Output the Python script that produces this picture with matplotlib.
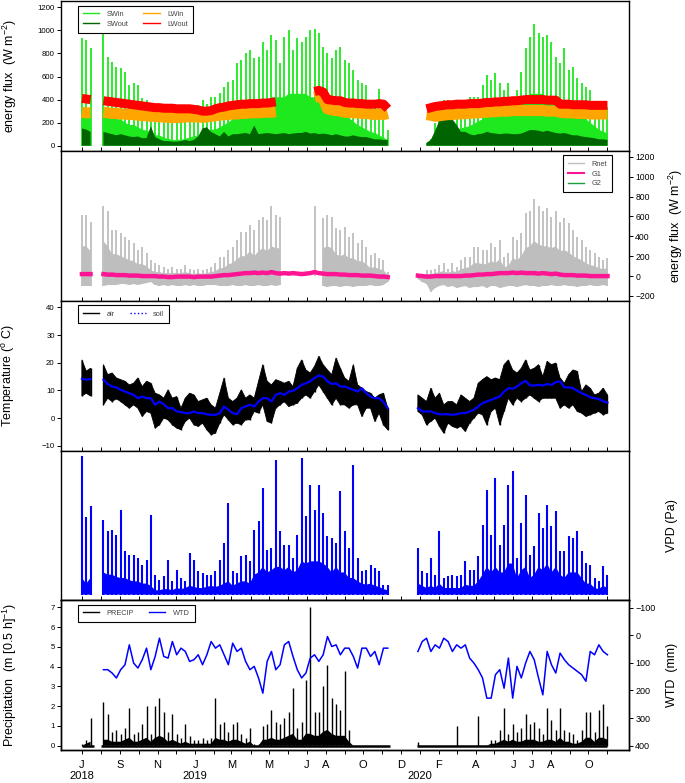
import matplotlib
matplotlib.use("Agg")
import matplotlib.pyplot as plt
from matplotlib.lines import Line2D
import numpy as np
import pandas as pd

nan = np.nan

# ---------------------------------------------------------------------------
# Data (weekly values)
# ---------------------------------------------------------------------------

WEEKS = pd.date_range("2018-07-01", periods=123, freq="7D")
MONTHS = pd.date_range("2018-07-01", "2020-11-01", freq="MS")
MONTH_LABELS = {
    "2018-07": "J\n2018", "2018-09": "S", "2018-11": "N", "2019-01": "J\n2019",
    "2019-03": "M", "2019-05": "M", "2019-07": "J", "2019-08": "A",
    "2019-10": "O", "2019-12": "D", "2020-01": "\n2020", "2020-02": "F",
    "2020-04": "A", "2020-06": "J", "2020-07": "J", "2020-08": "A",
    "2020-10": "O",
}
X_LIM = (pd.Timestamp("2018-05-28"), pd.Timestamp("2020-12-06"))
PRECIP_SEGMENTS = [("2018-07-01", "2018-07-20"),
                   ("2018-08-01", "2019-11-14"),
                   ("2019-12-27", "2020-11-01")]

SW_IN_PEAK = [930, 920, 845, nan, nan, 975, 770, 730, 685, 670,
              640, 525, 540, 525, 410, 395, 340, 295, 300, 280,
              280, 265, 280, 310, 340, 310, 310, 355, 395, 365,
              425, 425, 455, 510, 555, 570, 715, 745, 800, 830,
              760, 770, 900, 830, 960, 915, 715, 945, 1005, 830,
              930, 900, 945, 1005, 1015, 975, 860, 800, 760, 830,
              860, 745, 715, 655, 570, 540, 525, 365, 395, 495,
              310, 135, nan, nan, nan, nan, nan, nan, nan, nan,
              20, 60, 200, 250, 395, 395, 310, 340, 340, 310,
              425, 425, 425, 525, 615, 570, 630, 540, 485, 540,
              425, 485, 640, 845, 945, 1055, 975, 945, 960, 900,
              770, 715, 845, 655, 685, 585, 540, 510, 485, 355,
              340, 340, 340]
SW_IN_BODY = [280, 280, 260, nan, nan, 280, 280, 260, 230, 230,
              200, 180, 180, 160, 140, 130, 120, 90, 90, 70,
              60, 50, 50, 50, 60, 70, 80, 90, 110, 120,
              140, 140, 160, 180, 200, 230, 270, 290, 320, 320,
              350, 370, 390, 390, 420, 420, 420, 420, 450, 450,
              450, 450, 450, 420, 420, 400, 380, 360, 330, 310,
              280, 260, 240, 210, 180, 160, 140, 120, 110, 90,
              70, 50, nan, nan, nan, nan, nan, nan, nan, nan,
              20, 40, 90, 110, 130, 140, 140, 140, 150, 160,
              170, 190, 210, 230, 260, 280, 300, 320, 330, 340,
              360, 380, 400, 420, 450, 450, 450, 450, 420, 420,
              400, 380, 360, 330, 310, 280, 260, 230, 200, 170,
              140, 120, 110]
SW_OUT = [150, 140, 120, nan, nan, 120, 110, 100, 90, 100,
          90, 80, 75, 80, 65, 65, 170, 75, 55, 40,
          40, 35, 35, 40, 50, 40, 50, 80, 150, 160,
          120, 100, 80, 120, 80, 100, 100, 105, 110, 100,
          175, 100, 105, 110, 105, 100, 105, 110, 100, 105,
          110, 110, 120, 105, 110, 100, 105, 100, 90, 100,
          90, 80, 80, 90, 80, 75, 75, 65, 55, 55,
          50, 50, nan, nan, nan, nan, nan, nan, nan, nan,
          25, 50, 130, 220, 260, 250, 230, 180, 120, 120,
          100, 90, 100, 105, 120, 110, 105, 100, 105, 105,
          100, 100, 105, 120, 135, 135, 130, 120, 130, 120,
          110, 105, 110, 100, 90, 90, 80, 75, 70, 65,
          55, 55, 50]
LW_IN = [290, 285, 285, nan, nan, 290, 285, 280, 280, 275,
         275, 270, 270, 265, 260, 260, 255, 255, 250, 250,
         245, 245, 245, 245, 250, 250, 250, 250, 245, 250,
         255, 260, 265, 270, 270, 275, 275, 280, 280, 285,
         285, 285, 290, 290, 290, 295, nan, nan, nan, nan,
         nan, nan, nan, nan, 420, 430, 410, 320, 310, 305,
         300, 290, 290, 285, 285, 280, 280, 275, 270, 275,
         270, 280, nan, nan, nan, nan, nan, nan, nan, nan,
         270, 265, 255, 260, 265, 270, 270, 275, 275, 280,
         280, 285, 285, 290, 290, 295, 295, 300, 300, 300,
         305, 305, 305, 305, 305, 305, 305, 305, 300, 300,
         300, 290, 285, 285, 285, 280, 280, 280, 275, 275,
         275, 275, 275]
LW_OUT = [410, 405, 400, nan, nan, 390, 385, 380, 375, 370,
          365, 360, 355, 350, 345, 340, 335, 330, 330, 325,
          325, 325, 320, 320, 320, 320, 315, 310, 300, 300,
          305, 320, 330, 335, 345, 350, 355, 360, 360, 365,
          365, 365, 370, 370, 375, 380, nan, nan, nan, nan,
          nan, nan, nan, nan, 470, 480, 465, 400, 395, 390,
          390, 375, 370, 370, 365, 365, 360, 360, 360, 365,
          360, 320, nan, nan, nan, nan, nan, nan, nan, nan,
          320, 330, 340, 345, 350, 355, 355, 360, 360, 360,
          365, 365, 365, 370, 375, 375, 380, 380, 385, 385,
          390, 390, 395, 400, 400, 400, 400, 400, 395, 395,
          395, 360, 360, 360, 355, 355, 355, 355, 350, 350,
          350, 350, 350]

RNET_MAX = [615, 615, 545, nan, nan, 700, 650, 465, 465, 430,
            395, 360, 330, 260, 295, 230, 160, 130, 110, 95,
            75, 95, 75, 75, 110, 75, 60, 75, 60, 75,
            95, 130, 195, 195, 260, 295, 360, 445, 445, 515,
            465, 565, 595, 565, 700, 615, 595, nan, nan, nan,
            nan, nan, nan, nan, 700, nan, 580, 615, 595, 480,
            465, 495, 395, 430, 330, 360, 295, 210, 230, 180,
            160, 45, nan, nan, nan, nan, nan, nan, 25, 25,
            60, 60, 75, 110, 130, 75, 130, 95, 160, 195,
            195, 295, 295, 260, 260, 330, 295, 360, 195, 230,
            395, 360, 430, 630, 650, 780, 700, 650, 680, 595,
            650, 545, 580, 530, 465, 395, 360, 295, 260, 230,
            195, 160, 180]
RNET_MIN = [-100, -100, -100, nan, nan, -100, -90, -90, -90, -80,
            -80, -90, -80, -90, -80, -70, -60, -90, -100, -90,
            -100, -90, -100, -100, -90, -100, -90, -100, -100, -90,
            -90, -90, -100, -100, -100, -90, -100, -100, -90, -100,
            -100, -90, -100, -100, -90, -100, -90, nan, nan, nan,
            nan, nan, nan, nan, 0, nan, -100, -110, -100, -100,
            -110, -100, -100, -110, -100, -100, -100, -90, -100, -100,
            -90, -60, nan, nan, nan, nan, nan, nan, -30, -60,
            -80, -160, -120, -100, -90, -110, -100, -120, -110, -100,
            -120, -110, -110, -100, -120, -100, -100, -120, -110, -100,
            -100, -110, -100, -90, -100, -100, -110, -100, -100, -90,
            -100, -100, -90, -100, -100, -110, -100, -100, -90, -100,
            -100, -90, -100]
RNET_BODY = [300, 300, 250, nan, nan, 350, 300, 220, 220, 200,
             180, 160, 150, 120, 120, 100, 60, 40, 40, 30,
             30, 30, 30, 30, 40, 30, 20, 30, 20, 30,
             40, 50, 80, 80, 120, 130, 170, 200, 200, 250,
             200, 250, 280, 250, 300, 280, 280, nan, nan, nan,
             nan, nan, nan, nan, nan, nan, 280, 300, 280, 220,
             200, 220, 180, 180, 150, 150, 120, 80, 90, 70,
             60, 10, nan, nan, nan, nan, nan, nan, 0, 0,
             20, 20, 30, 40, 50, 30, 50, 40, 70, 80,
             90, 130, 130, 120, 120, 150, 130, 170, 90, 100,
             180, 160, 200, 280, 300, 350, 320, 300, 300, 280,
             300, 250, 260, 240, 200, 180, 160, 130, 110, 100,
             80, 70, 80]
G1 = [20, 20, 20, nan, nan, 20, 15, 15, 10, 10,
      10, 5, 5, 5, 0, 0, 0, 0, -5, -5,
      -10, -10, -5, -5, -5, -5, -10, -5, -5, -5,
      -5, 0, 5, 10, 10, 15, 20, 25, 30, 30,
      35, 30, 35, 30, 40, 30, 25, 30, 25, 30,
      25, 20, 25, 30, 40, 30, 25, 20, 20, 20,
      15, 15, 10, 10, 10, 5, 5, 5, 0, -5,
      -5, -10, nan, nan, nan, nan, nan, nan, 5, 0,
      -5, -5, 0, 0, 0, 0, 0, 0, 0, 5,
      5, 10, 15, 15, 20, 20, 25, 30, 30, 30,
      35, 30, 35, 30, 30, 30, 25, 30, 25, 20,
      25, 15, 10, 10, 10, 5, 5, 5, 0, 0,
      0, 0, 0]

T_AIR_MAX = [21, 17, 18, nan, nan, 19.3, 15.7, 16.3, 14.5, 13.9,
             13.3, 12, 12.6, 14.5, 11.4, 13.3, 12.6, 9, 8.4, 7.2,
             10.2, 7.2, 7.8, 3.6, 7.2, 9, 8.4, 6, 6.6, 7.2,
             4.8, 3.6, 9, 14.5, 7.2, 6, 7.2, 10.2, 7.2, 8.4,
             7.2, 13.3, 19.3, 13.3, 12, 13.9, 13.3, 12.6, 13.3, 11.4,
             18, 21, 17.4, 16.3, 18.7, 22.3, 19.3, 17.4, 15.7, 21.7,
             18, 14.5, 13.3, 19.3, 12, 10.8, 9.6, 9, 7.2, 8.4,
             9, 3.6, nan, nan, nan, nan, nan, nan, 8.4, 7.2,
             6, 10.8, 7.2, 9, 4.8, 6, 6, 4.8, 8.4, 7.2,
             6, 7.2, 12.6, 13.9, 15, 13.9, 14.5, 13.9, 19.3, 21,
             17.4, 16.3, 18, 21, 17.4, 18, 19.3, 15, 20.5, 19.3,
             19.9, 14.5, 12.6, 15.7, 17.4, 16.9, 9.6, 12, 10.8, 8.4,
             9, 10.8, 8.4]
T_AIR_MIN = [8, 9, 8, nan, nan, 4.8, 7.2, 6, 7, 6,
             4.8, 3.6, 4.8, 3.6, 0.6, 2.4, 1.8, -3.6, -2.4, 0,
             -0.6, -2.4, -3.6, -4.2, -1.2, 0, -2.4, -3, -1.8, -4.2,
             -6, -5.4, -1.8, 1.2, -0.6, -2.4, -1.8, -2.4, -0.6, -0.6,
             2.4, 1.8, 4.8, -1.2, -1.8, 3.6, 4.8, 6, 4.2, 4.8,
             5.4, 7.2, 8.4, 7.2, 9.6, 12, 9.6, 7.2, 4.8, 7.2,
             4.8, 4.8, 3.6, 4.8, 4.8, 0.6, 3.6, 3.6, -1.2, 1.8,
             -2.4, -4.2, nan, nan, nan, nan, nan, nan, 2.4, 1.2,
             -2.4, -1.2, 0, -3, -5.4, -1.8, -3, -3.6, -3, -4.8,
             -1.8, 0, 1.8, 1.2, -2.4, 2.4, 3.6, -2.4, 2.4, 7.2,
             4.8, 7.2, 6, 7.2, 8.4, 7.2, 6, 7.2, 7.2, 7.2,
             7.2, 3.6, 4.8, 3.6, 4.8, 2.4, 1.8, 0.6, 1.2, 1.8,
             2.4, 1.2, 1.8]
T_SOIL = [14.2, 13.9, 14.1, nan, nan, 13.9, 12.3, 11.4, 11.1, 10.2,
          9.6, 9, 8.4, 7.2, 7.8, 7.2, 7.2, 4.8, 6, 5,
          3.6, 3.6, 2.4, 2.2, 1.8, 1.8, 2.4, 1.8, 1.8, 1.4,
          1.2, 1.2, 1.8, 4.2, 3, 1.8, 1.4, 3.6, 4.2, 4.8,
          4.2, 6, 7.2, 7.2, 6, 8.4, 9, 8.4, 9.6, 9.9,
          10.8, 12, 12.6, 13.3, 14.5, 15.4, 15, 13.3, 12.3, 12.6,
          11.4, 11.4, 10.8, 10.2, 9.6, 10.8, 9, 7.8, 7.2, 7.2,
          5.8, 3.6, nan, nan, nan, nan, nan, nan, 3.6, 2.4,
          2.4, 2.4, 1.8, 1.4, 1.4, 1.4, 1.2, 1.4, 1.8, 1.8,
          2.4, 3, 4.2, 5.4, 6, 6.6, 7.2, 7.8, 9.6, 10.8,
          10.6, 11.4, 12.6, 13.5, 11.8, 11.8, 12, 11.8, 12.3, 12,
          13, 13.3, 11.1, 11.1, 10.8, 9.9, 9, 8.4, 7.5, 7.2,
          6.9, 6.1, 5.6]

VPD_PEAK = [1245, 700, 795, nan, nan, 675, 570, 585, 540, 765,
            390, 360, 360, 330, 270, 315, 720, 180, 135, 165,
            315, 120, 225, 150, 120, 375, 315, 210, 195, 180,
            180, 210, 315, 465, 825, 210, 195, 345, 360, 300,
            585, 660, 960, 405, 420, 1215, 570, 450, 450, 330,
            540, 1230, 705, 990, 765, 990, 735, 525, 510, 465,
            930, 570, 420, 1170, 330, 210, 225, 270, 240, 210,
            90, 90, nan, nan, nan, nan, nan, nan, 420, 210,
            195, 330, 180, 570, 150, 165, 180, 165, 180, 300,
            225, 225, 345, 630, 945, 540, 1050, 450, 630, 990,
            1110, 330, 645, 900, 360, 435, 735, 600, 810, 615,
            750, 390, 390, 525, 510, 570, 390, 285, 270, 150,
            120, 255, 180]
VPD_BODY = [150, 100, 150, nan, nan, 200, 180, 180, 160, 150,
            150, 130, 120, 120, 100, 100, 80, 40, 40, 50,
            50, 40, 60, 50, 60, 80, 70, 60, 60, 70,
            80, 70, 80, 100, 120, 80, 100, 120, 120, 100,
            180, 200, 250, 200, 220, 250, 250, 220, 250, 200,
            220, 300, 280, 300, 300, 300, 280, 250, 200, 250,
            200, 200, 150, 150, 120, 100, 90, 100, 80, 70,
            50, 40, nan, nan, nan, nan, nan, nan, 100, 80,
            60, 80, 60, 100, 60, 60, 60, 60, 60, 90,
            80, 80, 120, 180, 250, 200, 250, 200, 200, 280,
            280, 150, 220, 250, 150, 180, 250, 220, 280, 200,
            250, 180, 150, 200, 200, 200, 150, 100, 100, 60,
            50, 80, 60]

PRECIP = [0.1, 0.3, 1.4, nan, nan, 2.2, 1.6, 0.7, 0.8, 0.6,
          0.9, 1.9, 0.6, 0.7, 1.1, 2.0, 0.6, 2.0, 2.4, 1.7,
          0.7, 1.6, 0.6, 0.4, 1.1, 0.5, 0.3, 0.3, 0.4, 0.3,
          0.4, 2.4, 1.1, 1.2, 0.7, 1.1, 1.2, 0.6, 0.4, 0.9,
          0.1, 0.1, 1.0, 1.1, 1.8, 1.2, 1.1, 1.4, 1.7, 2.9,
          0.9, 1.2, 3.3, 7.0, 1.7, 1.7, 3.0, 4.1, 2.4, 2.1,
          1.8, 3.8, 0.8, 0, 0, 0, 0, 0, 0, 0,
          0, 0, nan, nan, nan, nan, nan, nan, 0.2, 0,
          0, 0, 0, 0, 0, 0, 0, 1.0, 0, 0,
          0, 0, 1.5, 0, 0, 0.3, 0.3, 0.8, 1.9, 0.6,
          1.1, 0.7, 0.9, 1.6, 1.1, 1.2, 0.9, 0.6, 1.9, 1.3,
          0.8, 1.9, 0.8, 0.7, 0.6, 0.3, 0.8, 1.7, 1.7, 0.7,
          1.8, 2.1, 1.0]
PRECIP_BODY = [0, 0.1, 0.2, nan, nan, 0.3, 0.3, 0.2, 0.2, 0.2,
               0.3, 0.4, 0.2, 0.2, 0.3, 0.4, 0.2, 0.4, 0.5, 0.4,
               0.2, 0.3, 0.2, 0.1, 0.2, 0.1, 0.1, 0.1, 0.1, 0.1,
               0.1, 0.4, 0.3, 0.3, 0.2, 0.3, 0.3, 0.2, 0.1, 0.2,
               0, 0, 0.3, 0.3, 0.4, 0.3, 0.3, 0.4, 0.5, 0.6,
               0.3, 0.3, 0.6, 0.6, 0.5, 0.5, 0.7, 0.8, 0.6, 0.5,
               0.5, 0.5, 0.2, 0, 0, 0, 0, 0, 0, 0,
               0, 0, nan, nan, nan, nan, nan, nan, 0, 0,
               0, 0, 0, 0, 0, 0, 0, 0, 0, 0,
               0, 0, 0, 0, 0, 0.1, 0.1, 0.2, 0.3, 0.2,
               0.3, 0.2, 0.2, 0.3, 0.3, 0.3, 0.2, 0.2, 0.3, 0.3,
               0.2, 0.4, 0.2, 0.2, 0.1, 0.1, 0.2, 0.4, 0.4, 0.2,
               0.4, 0.4, 0.3]
WTD = [nan, nan, nan, nan, nan, 125, 125, 137, 155, 125,
       107, 35, 101, 119, 89, 47, 125, 77, 11, 77,
       83, 23, 71, 47, 59, 95, 89, 71, 107, 71,
       23, 47, 35, 71, 107, 29, 59, 47, 95, 125,
       113, 155, 210, 95, 59, 125, 107, 35, 23, 77,
       125, 155, 137, 83, 71, 95, 71, 5, 41, 35,
       71, 47, 47, 77, 119, 47, 47, 77, 59, 107,
       47, 47, nan, nan, nan, nan, nan, nan, 59, 23,
       11, 59, 35, 47, 11, 23, 59, 35, 47, 35,
       83, 101, 125, 155, 228, 228, 143, 125, 192, 83,
       228, 113, 155, 101, 59, 89, 155, 216, 59, 107,
       137, 65, 89, 107, 119, 131, 143, 167, 59, 71,
       35, 59, 71]

# ---------------------------------------------------------------------------
# Style
# ---------------------------------------------------------------------------

plt.rcParams["font.family"] = ["Liberation Sans", "DejaVu Sans"]
plt.rcParams["mathtext.fontset"] = "custom"
plt.rcParams["mathtext.rm"] = "Liberation Sans"
plt.rcParams["mathtext.it"] = "Liberation Sans:italic"

C_SWIN, C_SWOUT = "#1ee81e", "#006400"
C_LWIN, C_LWOUT = "#ffa500", "#ff0000"
C_RNET, C_G1, C_G2 = "#bebebe", "#ff1493", "#1e9e3e"
BLUE = "#0000ff"

LEFT_LABEL_X = -0.074     # right edge of left-hand axis titles
RIGHT_LABEL_X = 1.066     # left edge of right-hand axis titles


def arr(values):
    return np.asarray(values, dtype=float)


def spikes(ax, base, body, peak, color, lw, z=1):
    """Weekly peaks as thin vertical strokes plus a filled dense body."""
    base, body, peak = arr(base), arr(body), arr(peak)
    ok = ~np.isnan(peak) & ~np.isnan(base)
    ax.vlines(WEEKS[ok], base[ok], peak[ok], colors=color, lw=lw, zorder=z)
    okb = ~np.isnan(body) & ~np.isnan(base)
    ax.fill_between(WEEKS, base, body, where=okb, color=color, lw=0,
                    zorder=z)


def style_axis(ax, bottom_labels=False):
    ax.set_xlim(X_LIM)
    ax.set_xticks(MONTHS)
    labels = [MONTH_LABELS.get(m.strftime("%Y-%m"), "") for m in MONTHS]
    ax.set_xticklabels(labels if bottom_labels else [""] * len(MONTHS))
    ax.tick_params(axis="x", direction="out" if bottom_labels else "in",
                   length=3, width=0.7, labelsize=8, pad=4, colors="black")
    ax.tick_params(axis="y", direction="out", length=3, width=0.7,
                   labelsize=5.6, pad=1.5)
    for s in ax.spines.values():
        s.set_linewidth(1.0)
        s.set_zorder(10)


def legend(ax, handles, labels, anchor, ncol=1, loc="upper left"):
    lg = ax.legend(handles, labels, loc=loc, bbox_to_anchor=anchor,
                   ncol=ncol, fontsize=5.3, frameon=True, fancybox=False,
                   edgecolor="black", framealpha=1, borderpad=0.7,
                   handlelength=2.2, handletextpad=1.0, columnspacing=2.0,
                   labelspacing=0.35, borderaxespad=0)
    lg.get_frame().set_linewidth(0.8)
    for t in lg.get_texts():
        t.set_color("#444444")
    lg.set_zorder(20)
    return lg


def main():
    fig = plt.figure(figsize=(6.85, 7.83), dpi=100)
    L, W, H = 61 / 685, 568 / 685, 149.75 / 783
    axes = [fig.add_axes([L, (33 + (4 - i) * 149.75) / 783, W, H])
            for i in range(5)]
    ax1, ax2, ax3, ax4, ax5 = axes

    # -- Panel 1: radiation components -----------------------------------
    spikes(ax1, np.zeros(len(WEEKS)), SW_IN_BODY, SW_IN_PEAK, C_SWIN, 1.3)
    sw_out = arr(SW_OUT)
    ax1.fill_between(WEEKS, 0, sw_out, where=~np.isnan(sw_out),
                     color=C_SWOUT, lw=0, zorder=2)
    ax1.plot(WEEKS, LW_IN, color=C_LWIN, lw=8, zorder=3,
             solid_capstyle="butt")
    ax1.plot(WEEKS, LW_OUT, color=C_LWOUT, lw=6.5, zorder=4,
             solid_capstyle="butt")
    ax1.set_ylim(-46, 1253)
    ax1.set_yticks(range(0, 1201, 200))
    ax1.set_ylabel("energy flux  (W m$^{-2}$)", fontsize=9)
    ax1.yaxis.set_label_coords(LEFT_LABEL_X, 0.5)
    h = [Line2D([], [], color=c, lw=1) for c in
         (C_SWIN, C_SWOUT, C_LWIN, C_LWOUT)]
    legend(ax1, h, ["SWin", "SWout", "LWin", "LWout"], (0.030, 0.97), ncol=2)

    # -- Panel 2: net radiation and ground heat flux ---------------------
    spikes(ax2, RNET_MIN, RNET_BODY, RNET_MAX, C_RNET, 1.3)
    ax2.plot(WEEKS, G1, color=C_G1, lw=3.2, zorder=3)
    ax2.set_ylim(-248, 1258)
    ax2.set_yticks(range(-200, 1201, 200))
    ax2.yaxis.tick_right()
    ax2.yaxis.set_label_position("right")
    ax2.set_ylabel("energy flux  (W m$^{-2}$)", fontsize=9)
    ax2.yaxis.set_label_coords(RIGHT_LABEL_X, 0.5)
    h = [Line2D([], [], color=C_RNET, lw=1), Line2D([], [], color=C_G1, lw=1.5),
         Line2D([], [], color=C_G2, lw=1)]
    legend(ax2, h, ["Rnet", "G1", "G2"], (0.97, 0.97), loc="upper right")

    # -- Panel 3: temperature --------------------------------------------
    tmax, tmin = arr(T_AIR_MAX), arr(T_AIR_MIN)
    ok = ~np.isnan(tmax)
    ax3.fill_between(WEEKS, tmin, tmax, where=ok, color="black", lw=0.6,
                     edgecolor="black", zorder=2)
    ax3.vlines(WEEKS[ok], tmin[ok], tmax[ok], colors="black", lw=1.0,
               zorder=2)
    ax3.plot(WEEKS, T_SOIL, color=BLUE, lw=1.6, zorder=3)
    ax3.set_ylim(-11.7, 42.4)
    ax3.set_yticks(range(-10, 41, 10))
    ax3.set_ylabel("Temperature ($^{\\mathrm{o}}$ C)", fontsize=9)
    ax3.yaxis.set_label_coords(LEFT_LABEL_X - 0.004, 0.5)
    h = [Line2D([], [], color="black", lw=1),
         Line2D([], [], color=BLUE, lw=1, ls=":")]
    legend(ax3, h, ["air", "soil"], (0.030, 0.97), ncol=2)

    # -- Panel 4: VPD ----------------------------------------------------
    spikes(ax4, np.zeros(len(WEEKS)), VPD_BODY, VPD_PEAK, BLUE, 1.5)
    ax4.set_ylim(-50, 1297)
    ax4.set_yticks([])
    ax4.yaxis.set_label_position("right")
    ax4.set_ylabel("VPD (Pa)", fontsize=9)
    ax4.yaxis.set_label_coords(RIGHT_LABEL_X, 0.5)

    # -- Panel 5: precipitation and water table --------------------------
    pr = arr(PRECIP)
    ok = ~np.isnan(pr) & (pr > 0)
    ax5.vlines(WEEKS[ok], 0, pr[ok], colors="black", lw=1.0, zorder=2)
    pb = arr(PRECIP_BODY)
    ax5.fill_between(WEEKS, 0, pb, where=~np.isnan(pb), color="black",
                     lw=0, zorder=2)
    for start, end in PRECIP_SEGMENTS:
        ax5.hlines(0, pd.Timestamp(start), pd.Timestamp(end),
                   colors="black", lw=1.8, zorder=2)
    ax5.set_ylim(-0.22, 7.36)
    ax5.set_yticks(range(0, 8))
    ax5.set_ylabel("Precipitation  (m [0.5 h]$^{-1}$)", fontsize=9)
    ax5.yaxis.set_label_coords(LEFT_LABEL_X, 0.5)

    ax5r = ax5.twinx()
    ax5r.plot(WEEKS, WTD, color=BLUE, lw=1.1, zorder=3)
    ax5r.set_ylim(415.7, -126.4)
    ax5r.set_yticks(range(-100, 401, 100))
    ax5r.tick_params(axis="y", direction="out", length=3, width=0.7,
                     labelsize=6.5, pad=1.5)
    ax5r.set_ylabel("WTD  (mm)", fontsize=9)
    ax5r.yaxis.set_label_coords(RIGHT_LABEL_X, 0.5)
    for s in ax5r.spines.values():
        s.set_linewidth(1.0)
    h = [Line2D([], [], color="black", lw=1),
         Line2D([], [], color=BLUE, lw=1)]
    legend(ax5r, h, ["PRECIP", "WTD"], (0.030, 0.97), ncol=2)

    for i, ax in enumerate(axes):
        style_axis(ax, bottom_labels=(i == 4))
    ax5r.set_xlim(X_LIM)
    ax2.tick_params(axis="y", labelsize=6.2)

    fig.savefig("out.png", dpi=100)


if __name__ == "__main__":
    main()
